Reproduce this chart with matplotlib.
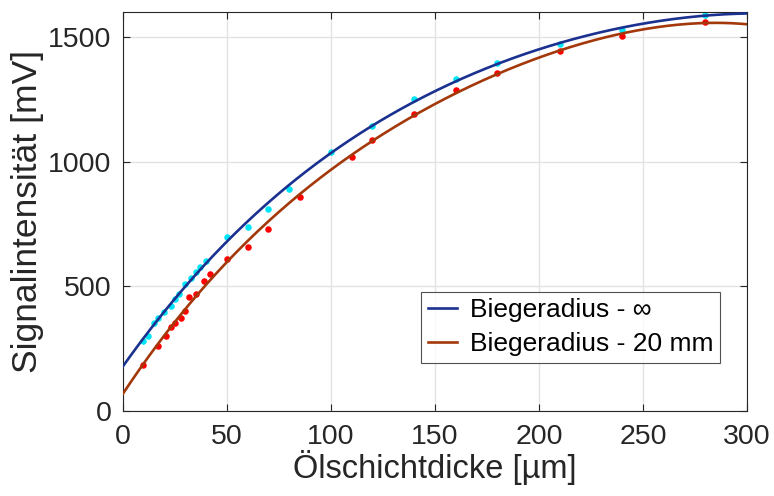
import numpy as np
import matplotlib
matplotlib.use('Agg')
import matplotlib.pyplot as plt

plt.rcParams['font.family'] = ['Liberation Sans', 'DejaVu Sans']

# Messpunkte Biegeradius unendlich (cyan)
x_inf = [10, 12, 15, 17, 20, 23, 25, 27, 30, 33, 35, 37, 40, 50, 60,
         70, 80, 100, 120, 140, 160, 180, 210, 240, 280]
y_inf = [282, 301, 352, 372, 398, 421, 450, 469, 508, 535, 558, 578, 603, 699, 739,
         811, 889, 1038, 1142, 1250, 1329, 1393, 1472, 1528, 1588]

# Messpunkte Biegeradius 20 mm (rot)
x_20 = [10, 17, 21, 23, 25, 28, 30, 32, 35, 39, 42, 50, 60,
        70, 85, 110, 120, 140, 160, 180, 210, 240, 280]
y_20 = [186, 262, 302, 337, 352, 372, 402, 456, 471, 523, 548, 611, 657,
        731, 860, 1019, 1087, 1190, 1286, 1355, 1441, 1503, 1559]

labels = ['Biegeradius - \u221e', 'Biegeradius - 20 mm']

fig = plt.figure(figsize=(7.74, 4.96), dpi=100)
ax = fig.add_axes([0.1585, 0.1708, 0.8066, 0.8056])

# Ausgleichskurven (Polynom 4. Grades)
xs = np.linspace(0, 300, 301)
p_inf = np.polyfit(x_inf, y_inf, 4)
p_20 = np.polyfit(x_20, y_20, 4)

ax.plot(xs, np.polyval(p_inf, xs), color='#1b3190', lw=1.9, label=labels[0], zorder=3)
ax.plot(xs, np.polyval(p_20, xs), color='#a3390b', lw=1.9, label=labels[1], zorder=3)
ax.scatter(x_inf, y_inf, s=22, color='#00e5f5', zorder=2, linewidths=0)
ax.scatter(x_20, y_20, s=22, color='#ff0000', zorder=2, linewidths=0)

ax.set_xlim(0, 300)
ax.set_ylim(0, 1600)
ax.set_xticks(np.arange(0, 301, 50))
ax.set_yticks([0, 500, 1000, 1500])
ax.grid(True, color='#e3e3e3', lw=1)
ax.set_axisbelow(True)
ax.tick_params(direction='in', top=True, right=True, labelsize=20.5, colors='#262626', length=5)
ax.tick_params(axis='x', pad=9)
ax.tick_params(axis='y', pad=8)
for s in ax.spines.values():
    s.set_color('#262626')
ax.set_xlabel('Ölschichtdicke [µm]', fontsize=23.5, color='#262626', labelpad=0)
ax.set_ylabel('Signalintensität [mV]', fontsize=25.5, color='#262626', labelpad=3)

leg = ax.legend(loc='lower right', bbox_to_anchor=(0.957, 0.121), fontsize=19,
                fancybox=False, edgecolor='#262626', handlelength=1.1, handletextpad=0.5,
                borderpad=0.25, labelspacing=0.38, borderaxespad=0)
leg.get_frame().set_linewidth(0.8)

plt.savefig('out.png')
